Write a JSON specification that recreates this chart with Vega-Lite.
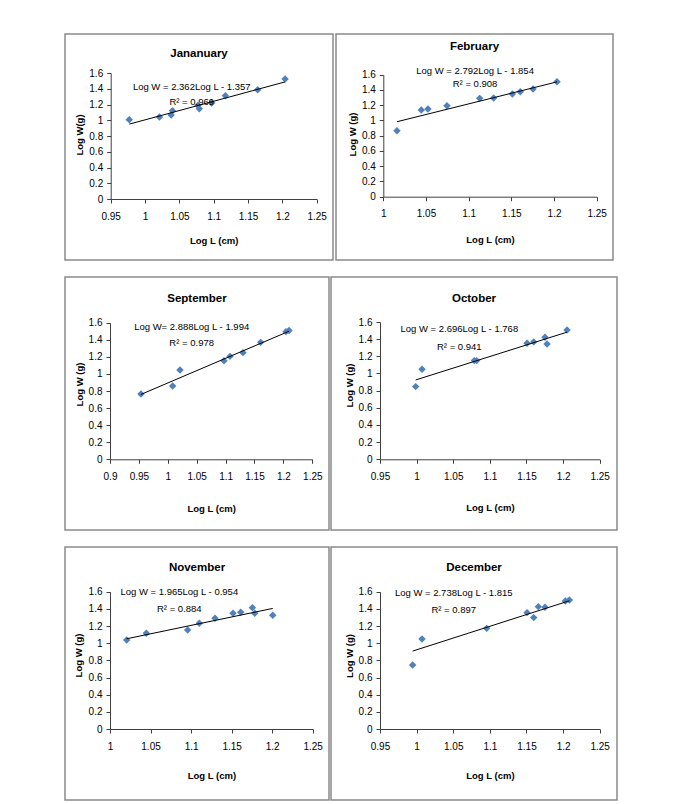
{
  "$schema": "https://vega.github.io/schema/vega-lite/v6.json",
  "background": "white",
  "padding": {"left": 64, "top": 33, "right": 5, "bottom": 2},
  "spacing": 15,
  "datasets": {
    "pts": [
      {"m": "Jan", "x": 0.977, "y": 1.007}, {"m": "Jan", "x": 1.021, "y": 1.041}, {"m": "Jan", "x": 1.038, "y": 1.067}, {"m": "Jan", "x": 1.040, "y": 1.122}, {"m": "Jan", "x": 1.077, "y": 1.190}, {"m": "Jan", "x": 1.079, "y": 1.145}, {"m": "Jan", "x": 1.097, "y": 1.219}, {"m": "Jan", "x": 1.117, "y": 1.312}, {"m": "Jan", "x": 1.164, "y": 1.388}, {"m": "Jan", "x": 1.204, "y": 1.524},
      {"m": "Feb", "x": 1.016, "y": 0.866}, {"m": "Feb", "x": 1.0445, "y": 1.137}, {"m": "Feb", "x": 1.0523, "y": 1.150}, {"m": "Feb", "x": 1.0746, "y": 1.193}, {"m": "Feb", "x": 1.1129, "y": 1.290}, {"m": "Feb", "x": 1.1293, "y": 1.294}, {"m": "Feb", "x": 1.1512, "y": 1.346}, {"m": "Feb", "x": 1.1605, "y": 1.377}, {"m": "Feb", "x": 1.1754, "y": 1.412}, {"m": "Feb", "x": 1.2035, "y": 1.508},
      {"m": "Sep", "x": 0.9536, "y": 0.765}, {"m": "Sep", "x": 1.0084, "y": 0.859}, {"m": "Sep", "x": 1.0211, "y": 1.046}, {"m": "Sep", "x": 1.0972, "y": 1.155}, {"m": "Sep", "x": 1.1076, "y": 1.206}, {"m": "Sep", "x": 1.1301, "y": 1.249}, {"m": "Sep", "x": 1.1607, "y": 1.370}, {"m": "Sep", "x": 1.2045, "y": 1.495}, {"m": "Sep", "x": 1.2097, "y": 1.508},
      {"m": "Oct", "x": 0.9987, "y": 0.847}, {"m": "Oct", "x": 1.0074, "y": 1.049}, {"m": "Oct", "x": 1.0788, "y": 1.150}, {"m": "Oct", "x": 1.082, "y": 1.150}, {"m": "Oct", "x": 1.1508, "y": 1.352}, {"m": "Oct", "x": 1.1599, "y": 1.368}, {"m": "Oct", "x": 1.1753, "y": 1.422}, {"m": "Oct", "x": 1.1781, "y": 1.344}, {"m": "Oct", "x": 1.2054, "y": 1.507},
      {"m": "Nov", "x": 1.0206, "y": 1.037}, {"m": "Nov", "x": 1.0448, "y": 1.115}, {"m": "Nov", "x": 1.0958, "y": 1.154}, {"m": "Nov", "x": 1.1102, "y": 1.232}, {"m": "Nov", "x": 1.1295, "y": 1.290}, {"m": "Nov", "x": 1.1517, "y": 1.348}, {"m": "Nov", "x": 1.1612, "y": 1.360}, {"m": "Nov", "x": 1.1756, "y": 1.414}, {"m": "Nov", "x": 1.1785, "y": 1.348}, {"m": "Nov", "x": 1.2007, "y": 1.325},
      {"m": "Dec", "x": 0.9946, "y": 0.746}, {"m": "Dec", "x": 1.0074, "y": 1.049}, {"m": "Dec", "x": 1.0957, "y": 1.173}, {"m": "Dec", "x": 1.1508, "y": 1.356}, {"m": "Dec", "x": 1.1599, "y": 1.298}, {"m": "Dec", "x": 1.1662, "y": 1.426}, {"m": "Dec", "x": 1.1753, "y": 1.418}, {"m": "Dec", "x": 1.2031, "y": 1.492}, {"m": "Dec", "x": 1.2086, "y": 1.503}
    ],
    "fit": [
      {"m": "Jan", "x": 0.9772, "y": 0.951}, {"m": "Jan", "x": 1.2039, "y": 1.487},
      {"m": "Feb", "x": 1.016, "y": 0.983}, {"m": "Feb", "x": 1.2035, "y": 1.506},
      {"m": "Sep", "x": 0.9536, "y": 0.760}, {"m": "Sep", "x": 1.2097, "y": 1.500},
      {"m": "Oct", "x": 0.9987, "y": 0.9245}, {"m": "Oct", "x": 1.2054, "y": 1.482},
      {"m": "Nov", "x": 1.0206, "y": 1.0515}, {"m": "Nov", "x": 1.2007, "y": 1.405},
      {"m": "Dec", "x": 0.9946, "y": 0.908}, {"m": "Dec", "x": 1.2086, "y": 1.494}
    ],
    "eq": [
      {"m": "Jan", "x": 1.068, "y": 1.422, "t": "Log W = 2.362Log L - 1.357"}, {"m": "Jan", "x": 1.068, "y": 1.236, "t": "R² = 0.969"},
      {"m": "Feb", "x": 1.1075, "y": 1.652, "t": "Log W = 2.792Log L - 1.854"}, {"m": "Feb", "x": 1.1075, "y": 1.478, "t": "R² = 0.908"},
      {"m": "Sep", "x": 1.0413, "y": 1.553, "t": "Log  W= 2.888Log L - 1.994"}, {"m": "Sep", "x": 1.0413, "y": 1.358, "t": "R² = 0.978"},
      {"m": "Oct", "x": 1.0583, "y": 1.515, "t": "Log W = 2.696Log L - 1.768"}, {"m": "Oct", "x": 1.0583, "y": 1.312, "t": "R² = 0.941"},
      {"m": "Nov", "x": 1.0855, "y": 1.600, "t": "Log W = 1.965Log L - 0.954"}, {"m": "Nov", "x": 1.0855, "y": 1.395, "t": "R² = 0.884"},
      {"m": "Dec", "x": 1.0507, "y": 1.589, "t": "Log W = 2.738Log L - 1.815"}, {"m": "Dec", "x": 1.0507, "y": 1.387, "t": "R² = 0.897"}
    ]
  },
  "vconcat": [
    {
      "hconcat": [
        {
          "width": 268, "height": 226,
          "title": {"text": "Jananuary", "offset": -25},
          "layer": [
            {"data": {"name": "pts"}, "transform": [{"filter": "datum.m === 'Jan'"}],
             "mark": {"type": "point", "shape": "diamond", "filled": true, "size": 55, "color": "#4F81BD", "opacity": 1},
             "encoding": {
               "x": {"field": "x", "type": "quantitative", "scale": {"domain": [0.95, 1.25], "range": [45.7, 251.7], "nice": false, "zero": false},
                     "axis": {"values": [0.95, 1, 1.05, 1.1, 1.15, 1.2, 1.25], "tickCount": 20, "labelOverlap": false, "offset": -61, "title": "Log L (cm)", "titleY": 41}},
               "y": {"field": "y", "type": "quantitative", "scale": {"domain": [0, 1.6], "range": [165, 39], "nice": false, "zero": false},
                     "axis": {"values": [0, 0.2, 0.4, 0.6, 0.8, 1, 1.2, 1.4, 1.6], "tickCount": 20, "labelOverlap": false, "offset": -45.7, "title": "Log W(g)", "titleX": -31, "titleY": 100.5}}
             }},
            {"data": {"name": "fit"}, "transform": [{"filter": "datum.m === 'Jan'"}],
             "mark": {"type": "line", "color": "black", "strokeWidth": 1},
             "encoding": {"x": {"field": "x", "type": "quantitative"}, "y": {"field": "y", "type": "quantitative"}}},
            {"data": {"name": "eq"}, "transform": [{"filter": "datum.m === 'Jan'"}],
             "mark": {"type": "text"},
             "encoding": {"x": {"field": "x", "type": "quantitative"}, "y": {"field": "y", "type": "quantitative"}, "text": {"field": "t"}}}
          ]
        },
        {
          "width": 277, "height": 226,
          "title": {"text": "February", "offset": -18.5},
          "layer": [
            {"data": {"name": "pts"}, "transform": [{"filter": "datum.m === 'Feb'"}],
             "mark": {"type": "point", "shape": "diamond", "filled": true, "size": 55, "color": "#4F81BD", "opacity": 1},
             "encoding": {
               "x": {"field": "x", "type": "quantitative", "scale": {"domain": [1, 1.25], "range": [47.3, 260.7], "nice": false, "zero": false},
                     "axis": {"values": [1, 1.05, 1.1, 1.15, 1.2, 1.25], "tickCount": 20, "labelOverlap": false, "offset": -63.3, "title": "Log L (cm)", "titleY": 43}},
               "y": {"field": "y", "type": "quantitative", "scale": {"domain": [0, 1.6], "range": [162.7, 40.7], "nice": false, "zero": false},
                     "axis": {"values": [0, 0.2, 0.4, 0.6, 0.8, 1, 1.2, 1.4, 1.6], "tickCount": 20, "labelOverlap": false, "offset": -47.3, "title": "Log W (g)", "titleX": -31, "titleY": 100}}
             }},
            {"data": {"name": "fit"}, "transform": [{"filter": "datum.m === 'Feb'"}],
             "mark": {"type": "line", "color": "black", "strokeWidth": 1},
             "encoding": {"x": {"field": "x", "type": "quantitative"}, "y": {"field": "y", "type": "quantitative"}}},
            {"data": {"name": "eq"}, "transform": [{"filter": "datum.m === 'Feb'"}],
             "mark": {"type": "text"},
             "encoding": {"x": {"field": "x", "type": "quantitative"}, "y": {"field": "y", "type": "quantitative"}, "text": {"field": "t"}}}
          ]
        }
      ],
      "spacing": 1
    },
    {
      "hconcat": [
        {
          "width": 264, "height": 253,
          "title": {"text": "September", "offset": -27},
          "layer": [
            {"data": {"name": "pts"}, "transform": [{"filter": "datum.m === 'Sep'"}],
             "mark": {"type": "point", "shape": "diamond", "filled": true, "size": 55, "color": "#4F81BD", "opacity": 1},
             "encoding": {
               "x": {"field": "x", "type": "quantitative", "scale": {"domain": [0.9, 1.25], "range": [45, 247.3], "nice": false, "zero": false},
                     "axis": {"values": [0.9, 0.95, 1, 1.05, 1.1, 1.15, 1.2, 1.25], "tickCount": 20, "labelOverlap": false, "offset": -70.7, "title": "Log L (cm)", "titleY": 49}},
               "y": {"field": "y", "type": "quantitative", "scale": {"domain": [0, 1.6], "range": [182.3, 45.7], "nice": false, "zero": false},
                     "axis": {"values": [0, 0.2, 0.4, 0.6, 0.8, 1, 1.2, 1.4, 1.6], "tickCount": 20, "labelOverlap": false, "offset": -45, "title": "Log W  (g)", "titleX": -31, "titleY": 107}}
             }},
            {"data": {"name": "fit"}, "transform": [{"filter": "datum.m === 'Sep'"}],
             "mark": {"type": "line", "color": "black", "strokeWidth": 1},
             "encoding": {"x": {"field": "x", "type": "quantitative"}, "y": {"field": "y", "type": "quantitative"}}},
            {"data": {"name": "eq"}, "transform": [{"filter": "datum.m === 'Sep'"}],
             "mark": {"type": "text"},
             "encoding": {"x": {"field": "x", "type": "quantitative"}, "y": {"field": "y", "type": "quantitative"}, "text": {"field": "t"}}}
          ]
        },
        {
          "width": 286, "height": 253,
          "title": {"text": "October", "offset": -27},
          "layer": [
            {"data": {"name": "pts"}, "transform": [{"filter": "datum.m === 'Oct'"}],
             "mark": {"type": "point", "shape": "diamond", "filled": true, "size": 55, "color": "#4F81BD", "opacity": 1},
             "encoding": {
               "x": {"field": "x", "type": "quantitative", "scale": {"domain": [0.95, 1.25], "range": [49, 268.7], "nice": false, "zero": false},
                     "axis": {"values": [0.95, 1, 1.05, 1.1, 1.15, 1.2, 1.25], "tickCount": 20, "labelOverlap": false, "offset": -70.7, "title": "Log L (cm)", "titleY": 48}},
               "y": {"field": "y", "type": "quantitative", "scale": {"domain": [0, 1.6], "range": [182.3, 45], "nice": false, "zero": false},
                     "axis": {"values": [0, 0.2, 0.4, 0.6, 0.8, 1, 1.2, 1.4, 1.6], "tickCount": 20, "labelOverlap": false, "offset": -49, "title": "Log W (g)", "titleX": -31, "titleY": 108}}
             }},
            {"data": {"name": "fit"}, "transform": [{"filter": "datum.m === 'Oct'"}],
             "mark": {"type": "line", "color": "black", "strokeWidth": 1},
             "encoding": {"x": {"field": "x", "type": "quantitative"}, "y": {"field": "y", "type": "quantitative"}}},
            {"data": {"name": "eq"}, "transform": [{"filter": "datum.m === 'Oct'"}],
             "mark": {"type": "text"},
             "encoding": {"x": {"field": "x", "type": "quantitative"}, "y": {"field": "y", "type": "quantitative"}, "text": {"field": "t"}}}
          ]
        }
      ],
      "spacing": 0
    },
    {
      "hconcat": [
        {
          "width": 264, "height": 253,
          "title": {"text": "November", "offset": -26},
          "layer": [
            {"data": {"name": "pts"}, "transform": [{"filter": "datum.m === 'Nov'"}],
             "mark": {"type": "point", "shape": "diamond", "filled": true, "size": 55, "color": "#4F81BD", "opacity": 1},
             "encoding": {
               "x": {"field": "x", "type": "quantitative", "scale": {"domain": [1, 1.25], "range": [45, 247.7], "nice": false, "zero": false},
                     "axis": {"values": [1, 1.05, 1.1, 1.15, 1.2, 1.25], "tickCount": 20, "labelOverlap": false, "offset": -71, "title": "Log L (cm)", "titleY": 46}},
               "y": {"field": "y", "type": "quantitative", "scale": {"domain": [0, 1.6], "range": [182, 44.7], "nice": false, "zero": false},
                     "axis": {"values": [0, 0.2, 0.4, 0.6, 0.8, 1, 1.2, 1.4, 1.6], "tickCount": 20, "labelOverlap": false, "offset": -45, "title": "Log W  (g)", "titleX": -32, "titleY": 108}}
             }},
            {"data": {"name": "fit"}, "transform": [{"filter": "datum.m === 'Nov'"}],
             "mark": {"type": "line", "color": "black", "strokeWidth": 1},
             "encoding": {"x": {"field": "x", "type": "quantitative"}, "y": {"field": "y", "type": "quantitative"}}},
            {"data": {"name": "eq"}, "transform": [{"filter": "datum.m === 'Nov'"}],
             "mark": {"type": "text"},
             "encoding": {"x": {"field": "x", "type": "quantitative"}, "y": {"field": "y", "type": "quantitative"}, "text": {"field": "t"}}}
          ]
        },
        {
          "width": 286, "height": 253,
          "title": {"text": "December", "offset": -26},
          "layer": [
            {"data": {"name": "pts"}, "transform": [{"filter": "datum.m === 'Dec'"}],
             "mark": {"type": "point", "shape": "diamond", "filled": true, "size": 55, "color": "#4F81BD", "opacity": 1},
             "encoding": {
               "x": {"field": "x", "type": "quantitative", "scale": {"domain": [0.95, 1.25], "range": [49, 268.7], "nice": false, "zero": false},
                     "axis": {"values": [0.95, 1, 1.05, 1.1, 1.15, 1.2, 1.25], "tickCount": 20, "labelOverlap": false, "offset": -71, "title": "Log L (cm)", "titleY": 46}},
               "y": {"field": "y", "type": "quantitative", "scale": {"domain": [0, 1.6], "range": [182, 44.7], "nice": false, "zero": false},
                     "axis": {"values": [0, 0.2, 0.4, 0.6, 0.8, 1, 1.2, 1.4, 1.6], "tickCount": 20, "labelOverlap": false, "offset": -49, "title": "Log W (g)", "titleX": -31, "titleY": 108.5}}
             }},
            {"data": {"name": "fit"}, "transform": [{"filter": "datum.m === 'Dec'"}],
             "mark": {"type": "line", "color": "black", "strokeWidth": 1},
             "encoding": {"x": {"field": "x", "type": "quantitative"}, "y": {"field": "y", "type": "quantitative"}}},
            {"data": {"name": "eq"}, "transform": [{"filter": "datum.m === 'Dec'"}],
             "mark": {"type": "text"},
             "encoding": {"x": {"field": "x", "type": "quantitative"}, "y": {"field": "y", "type": "quantitative"}, "text": {"field": "t"}}}
          ]
        }
      ],
      "spacing": 0
    }
  ],
  "config": {
    "font": "Liberation Sans",
    "view": {"stroke": "#8a8a8a", "strokeWidth": 1.5},
    "axis": {
      "grid": false,
      "domainColor": "#404040",
      "tickColor": "#404040",
      "tickSize": 4,
      "labelFontSize": 10,
      "labelColor": "#000000",
      "format": "~g",
      "labelFont": "Liberation Sans",
      "titleFont": "Liberation Sans",
      "titleFontSize": 9.5,
      "titleFontWeight": "bold",
      "titleColor": "#000000",
      "titleBaseline": "middle",
      "labelOverlap": false
    },
    "axisX": {"labelPadding": 8, "labelFlush": false},
    "axisY": {"labelPadding": 4},
    "title": {"font": "Liberation Sans", "fontSize": 11.5, "fontWeight": "bold", "color": "#000000", "anchor": "middle", "frame": "group", "baseline": "middle"},
    "text": {"font": "Liberation Sans", "fontSize": 9.5, "color": "#000000"}
  }
}
